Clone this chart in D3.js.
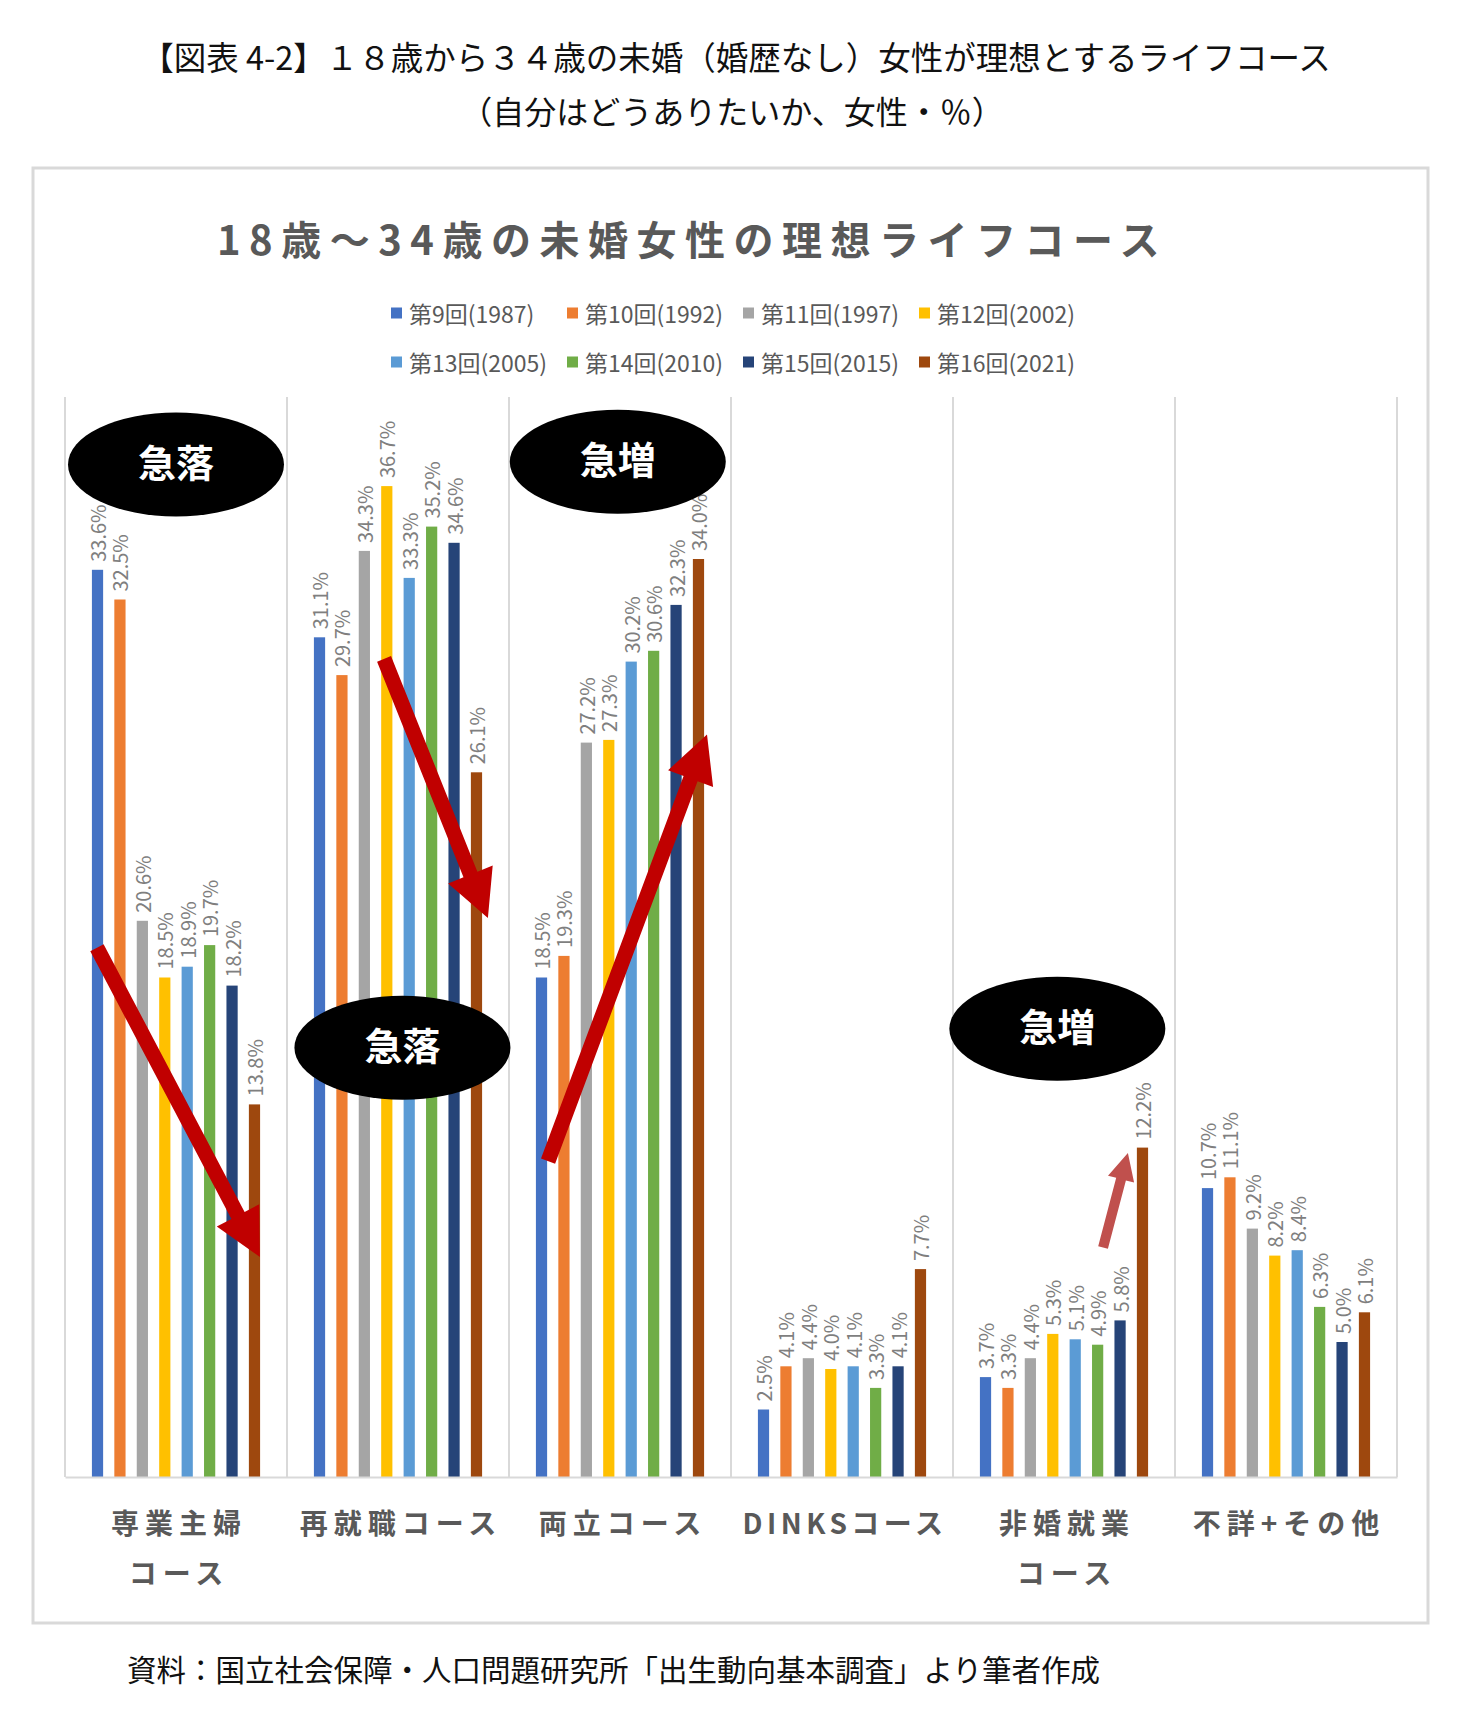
<!DOCTYPE html>
<html>
<head>
<meta charset="utf-8">
<script src="https://cdn.jsdelivr.net/npm/d3@7"></script>
<style>
  body { margin: 0; background: #fff; }
  text { font-family: "Noto Sans CJK JP", "Noto Sans", sans-serif; }
</style>
</head>
<body>
<div id="chart"></div>
<script>
// categories (courses)
const categories = ["専業主婦コース", "再就職コース", "両立コース", "DINKSコース", "非婚就業コース", "不詳+その他"];
// survey rounds
const series = ["第9回(1987)", "第10回(1992)", "第11回(1997)", "第12回(2002)",
                "第13回(2005)", "第14回(2010)", "第15回(2015)", "第16回(2021)"];
const colors = ["#4472C4", "#ED7D31", "#A5A5A5", "#FFC000", "#5B9BD5", "#70AD47", "#264478", "#9E480E"];

// values per category, in series order (%)
const sengyou   = [33.6, 32.5, 20.6, 18.5, 18.9, 19.7, 18.2, 13.8];
const saishuu   = [31.1, 29.7, 34.3, 36.7, 33.3, 35.2, 34.6, 26.1];
const ryouritsu = [18.5, 19.3, 27.2, 27.3, 30.2, 30.6, 32.3, 34.0];
const dinks     = [2.5, 4.1, 4.4, 4.0, 4.1, 3.3, 4.1, 7.7];
const hikon     = [3.7, 3.3, 4.4, 5.3, 5.1, 4.9, 5.8, 12.2];
const fushou    = [10.7, 11.1, 9.2, 8.2, 8.4, 6.3, 5.0, 6.1];
const values = [sengyou, saishuu, ryouritsu, dinks, hikon, fushou];

// annotations: [category index, position in band (0-1), value]
const bubbles = [
  { text: "急落", cat: 0, pos: 0.50, v: 37.5 },
  { text: "急落", cat: 1, pos: 0.52, v: 15.9 },
  { text: "急増", cat: 2, pos: 0.49, v: 37.6 },
  { text: "急増", cat: 4, pos: 0.47, v: 16.6 }
];
const arrows = [
  { from: [0, 0.144, 19.6], to: [0, 0.878, 8.15], big: true },
  { from: [1, 0.437, 30.3], to: [1, 0.905, 20.7], big: true },
  { from: [2, 0.176, 11.7], to: [2, 0.892, 27.5], big: true },
  { from: [4, 0.676, 8.5],  to: [4, 0.788, 12.0], big: false }
];

const W = 1468, H = 1715;
const plot = { left: 65, right: 1397, top: 397, bottom: 1477 };

const svg = d3.select("#chart").append("svg")
  .attr("width", W).attr("height", H);

svg.append("rect").attr("width", W).attr("height", H).attr("fill", "#fff");

// page title
svg.append("text")
  .attr("x", 736).attr("y", 55)
  .attr("text-anchor", "middle").attr("dominant-baseline", "central")
  .attr("font-size", 32.5).attr("fill", "#111")
  .text("【図表 4-2】１８歳から３４歳の未婚（婚歴なし）女性が理想とするライフコース");
svg.append("text")
  .attr("x", 732).attr("y", 110)
  .attr("text-anchor", "middle").attr("dominant-baseline", "central")
  .attr("font-size", 32).attr("fill", "#111")
  .text("（自分はどうありたいか、女性・％）");

// chart frame
svg.append("rect")
  .attr("x", 33).attr("y", 168).attr("width", 1395).attr("height", 1455)
  .attr("fill", "#fff").attr("stroke", "#d9d9d9").attr("stroke-width", 3);

// chart title
svg.append("text")
  .attr("x", 217).attr("y", 238)
  .attr("dominant-baseline", "central")
  .attr("font-size", 40).attr("font-weight", "bold")
  .attr("letter-spacing", "8.5px")
  .attr("fill", "#595959")
  .text("18歳～34歳の未婚女性の理想ライフコース");

// legend
const legend = svg.append("g");
series.forEach((s, i) => {
  const col = i % 4, row = Math.floor(i / 4);
  const lx = 391 + col * 176, ly = 313 + row * 49;
  legend.append("rect")
    .attr("x", lx).attr("y", ly - 5.5).attr("width", 11).attr("height", 11)
    .attr("fill", colors[i]);
  legend.append("text")
    .attr("x", lx + 18).attr("y", ly)
    .attr("dominant-baseline", "central")
    .attr("font-size", 23).attr("fill", "#595959")
    .text(s);
});

// scales
const x0 = d3.scaleBand().domain(categories).range([plot.left, plot.right]).padding(0);
const x1 = d3.scaleBand().domain(series).range([0, x0.bandwidth()])
  .paddingInner(0.5).paddingOuter(1.2);
const y = d3.scaleLinear().domain([0, 40]).range([plot.bottom, plot.top]);

// vertical separators
const sep = categories.map(c => x0(c)).concat([plot.right]);
svg.append("g").selectAll("line").data(sep).enter().append("line")
  .attr("x1", d => d).attr("x2", d => d)
  .attr("y1", plot.top).attr("y2", plot.bottom)
  .attr("stroke", "#d9d9d9").attr("stroke-width", 2);

// bars
const groups = svg.append("g").selectAll("g")
  .data(categories).enter().append("g")
  .attr("transform", c => "translate(" + x0(c) + ",0)");

groups.selectAll("rect")
  .data((c, ci) => values[ci].map((v, si) => ({ s: series[si], v: v, i: si })))
  .enter().append("rect")
  .attr("x", d => x1(d.s))
  .attr("y", d => y(d.v))
  .attr("width", x1.bandwidth())
  .attr("height", d => y(0) - y(d.v))
  .attr("fill", d => colors[d.i]);

// data labels (rotated)
groups.selectAll("text")
  .data((c, ci) => values[ci].map((v, si) => ({ s: series[si], v: v })))
  .enter().append("text")
  .attr("transform", d => "translate(" + (x1(d.s) + x1.bandwidth() / 2) + "," + (y(d.v) - 8) + ") rotate(-90)")
  .attr("dominant-baseline", "central")
  .attr("font-family", "'Noto Sans', sans-serif")
  .attr("font-size", 20).attr("fill", "#7f7f7f")
  .text(d => d.v.toFixed(1) + "%");

// x axis line
const xAxis = svg.append("g")
  .attr("transform", "translate(0," + plot.bottom + ")")
  .call(d3.axisBottom(x0).tickSize(0).tickFormat(""));
xAxis.select(".domain").attr("stroke", "#d9d9d9").attr("stroke-width", 2);

// category labels, wrapped like Excel when too wide
const catLabels = svg.append("g");
function catText(c, txt, yy) {
  return catLabels.append("text")
    .attr("x", x0(c) + x0.bandwidth() / 2 + 3)
    .attr("y", yy)
    .attr("text-anchor", "middle").attr("dominant-baseline", "central")
    .attr("font-size", 28).attr("font-weight", "bold")
    .attr("letter-spacing", /^[A-Z]/.test(txt) ? "4.5px" : "6px").attr("fill", "#595959")
    .text(txt);
}
categories.forEach(c => {
  const t = catText(c, c, 1522);
  const k = c.indexOf("コース");
  if (t.node().getComputedTextLength() > x0.bandwidth() + 10 && k > 0) {
    t.text(c.slice(0, k));
    catText(c, c.slice(k), 1572);
  }
});

// arrows
function pt(a) {
  return [x0(categories[a[0]]) + a[1] * x0.bandwidth(), y(a[2])];
}
function arrowPath(t, p, w, hw, hl) {
  const dx = p[0] - t[0], dy = p[1] - t[1];
  const len = Math.sqrt(dx * dx + dy * dy);
  const ux = dx / len, uy = dy / len, nx = -uy, ny = ux;
  const b = [p[0] - ux * hl, p[1] - uy * hl];
  const pts = [
    [t[0] + nx * w / 2, t[1] + ny * w / 2],
    [b[0] + nx * w / 2, b[1] + ny * w / 2],
    [b[0] + nx * hw / 2, b[1] + ny * hw / 2],
    p,
    [b[0] - nx * hw / 2, b[1] - ny * hw / 2],
    [b[0] - nx * w / 2, b[1] - ny * w / 2],
    [t[0] - nx * w / 2, t[1] - ny * w / 2]
  ];
  return "M" + pts.map(q => q[0].toFixed(1) + "," + q[1].toFixed(1)).join("L") + "Z";
}
svg.append("g").selectAll("path").data(arrows).enter().append("path")
  .attr("d", a => a.big
    ? arrowPath(pt(a.from), pt(a.to), 15, 48, 47)
    : arrowPath(pt(a.from), pt(a.to), 10, 27, 27))
  .attr("fill", a => a.big ? "#C00000" : "#C0504D");

// bubbles
const bub = svg.append("g").selectAll("g").data(bubbles).enter().append("g")
  .attr("transform", b => "translate(" + (x0(categories[b.cat]) + b.pos * x0.bandwidth()) + "," + y(b.v) + ")");
bub.append("ellipse").attr("rx", 108).attr("ry", 52).attr("fill", "#000");
bub.append("text")
  .attr("y", -4)
  .attr("text-anchor", "middle").attr("dominant-baseline", "central")
  .attr("font-size", 38).attr("font-weight", "bold").attr("fill", "#fff")
  .text(b => b.text);

// source note
svg.append("text")
  .attr("x", 127).attr("y", 1668)
  .attr("dominant-baseline", "central")
  .attr("font-size", 29.5).attr("fill", "#111")
  .text("資料：国立社会保障・人口問題研究所「出生動向基本調査」より筆者作成");
</script>
</body>
</html>
